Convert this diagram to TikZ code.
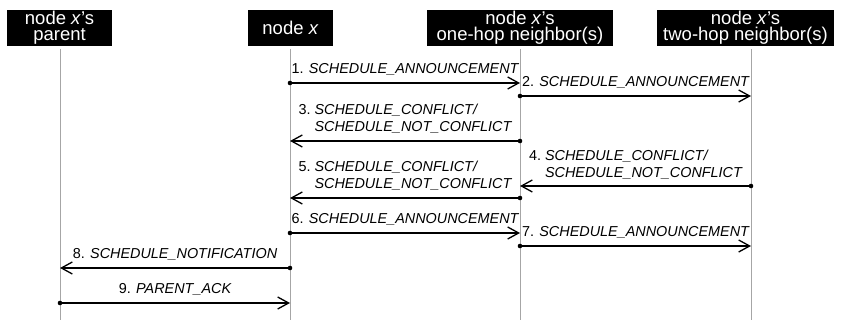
\documentclass[tikz,border=0pt]{standalone}
\usepackage{fontspec}
\setmainfont{Liberation Sans}
\usetikzlibrary{arrows.meta}
\tikzset{
  hdr/.style={fill=black, text=white, inner sep=0pt, minimum height=36pt, align=center,
    font=\fontsize{18.5}{16}\selectfont},
  life/.style={draw=black!35, line width=0.8pt},
  msg/.style={line width=1.3pt, -{Straight Barb[length=11pt,width=12pt,line width=1.3pt]}},
  dot/.style={fill=black},
  lbl/.style={anchor=base, inner sep=0pt, font=\fontsize{14.4}{17}\selectfont\itshape}
}
\newcommand{\twolab}[3]{\begin{tabular}[b]{@{}l@{}l@{}}\mbox{#1\ }& #2\\ & #3\end{tabular}}
\begin{document}
\begin{tikzpicture}[x=1pt,y=-1pt]
\useasboundingbox (0,0) rectangle (844,320);
% headers
\node[hdr, minimum width=105pt] (hp) at (59.5,28) {node \textit{x}'s\\parent};
\node[hdr, minimum width=85pt] (hx) at (290.5,28) {node \textit{x}};
\node[hdr, minimum width=186pt] (h1) at (520,28) {node \textit{x}'s\\one-hop neighbor(s)};
\node[hdr, minimum width=177pt] (h2) at (745.5,28) {node \textit{x}'s\\two-hop neighbor(s)};
% lifelines
\coordinate (pt) at (60,49);  \coordinate (pb) at (60,320);
\coordinate (xt) at (290,49); \coordinate (xb) at (290,320);
\coordinate (ot) at (520,49); \coordinate (ob) at (520,320);
\coordinate (tt) at (751,49); \coordinate (tb) at (751,320);
\draw[life] (pt) -- (pb);
\draw[life] (xt) -- (xb);
\draw[life] (ot) -- (ob);
\draw[life] (tt) -- (tb);
% message end points
\coordinate (x1) at (290,83);  \coordinate (o1) at (520,83);
\coordinate (o2) at (520,96);  \coordinate (t2) at (751,96);
\coordinate (o3) at (520,141); \coordinate (x3) at (290,141);
\coordinate (t4) at (751,186); \coordinate (o4) at (520,186);
\coordinate (o5) at (520,198); \coordinate (x5) at (290,198);
\coordinate (x6) at (290,233); \coordinate (o6) at (520,233);
\coordinate (o7) at (520,246); \coordinate (t7) at (751,246);
\coordinate (x8) at (290,268); \coordinate (p8) at (60,268);
\coordinate (p9) at (60,303);  \coordinate (x9) at (290,303);
% messages
\draw[msg] (x1) -- (o1); \fill[dot] (x1) circle[radius=2.3pt];
\draw[msg] (o2) -- (t2); \fill[dot] (o2) circle[radius=2.3pt];
\draw[msg] (o3) -- (x3); \fill[dot] (o3) circle[radius=2.3pt];
\draw[msg] (t4) -- (o4); \fill[dot] (t4) circle[radius=2.3pt];
\draw[msg] (o5) -- (x5); \fill[dot] (o5) circle[radius=2.3pt];
\draw[msg] (x6) -- (o6); \fill[dot] (x6) circle[radius=2.3pt];
\draw[msg] (o7) -- (t7); \fill[dot] (o7) circle[radius=2.3pt];
\draw[msg] (x8) -- (p8); \fill[dot] (x8) circle[radius=2.3pt];
\draw[msg] (p9) -- (x9); \fill[dot] (p9) circle[radius=2.3pt];
% labels
\node[lbl] (l1) at (405,74) {\upshape 1. \itshape SCHEDULE\_ANNOUNCEMENT};
\node[lbl] (l2) at (635.5,87) {\upshape 2. \itshape SCHEDULE\_ANNOUNCEMENT};
\node[lbl] (l3) at (405,132) {\twolab{\upshape 3.}{SCHEDULE\_CONFLICT/}{SCHEDULE\_NOT\_CONFLICT}};
\node[lbl] (l4) at (635.5,178) {\twolab{\upshape 4.}{SCHEDULE\_CONFLICT/}{SCHEDULE\_NOT\_CONFLICT}};
\node[lbl] (l5) at (405,189) {\twolab{\upshape 5.}{SCHEDULE\_CONFLICT/}{SCHEDULE\_NOT\_CONFLICT}};
\node[lbl] (l6) at (405,224) {\upshape 6. \itshape SCHEDULE\_ANNOUNCEMENT};
\node[lbl] (l7) at (635.5,237) {\upshape 7. \itshape SCHEDULE\_ANNOUNCEMENT};
\node[lbl] (l8) at (175,259) {\upshape 8. \itshape SCHEDULE\_NOTIFICATION};
\node[lbl] (l9) at (175,294) {\upshape 9. \itshape PARENT\_ACK};
\end{tikzpicture}
\end{document}
